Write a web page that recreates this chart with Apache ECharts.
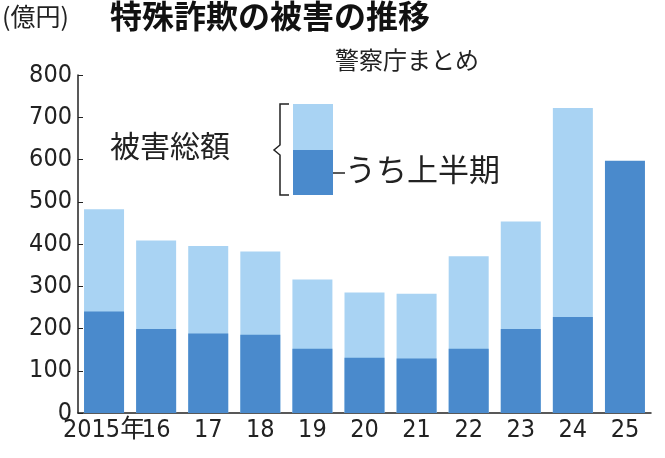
<!DOCTYPE html><html><head><meta charset="utf-8">
<script src="https://cdn.jsdelivr.net/npm/echarts@6/dist/echarts.min.js"></script>
<style>html,body{margin:0;padding:0;background:#fff}#c{width:665px;height:458px}</style></head>
<body><div id="c"></div><script>
const categories=['2015年','16','17','18','19','20','21','22','23','24','25'];
const totalValues=[482,408,395,382,316,285,282,371,453,722,null];
const firstHalfValues=[240,199,188,185,152,131,129,152,199,227,597];
const yTicks=[0,100,200,300,400,500,600,700,800];
const F='"Noto Sans CJK JP", sans-serif';
const chart=echarts.init(document.getElementById('c'));
chart.setOption({
 animation:false,
 grid:{left:78,right:14,top:75,bottom:45},
 xAxis:{type:'category',data:categories,axisTick:{show:false},
  axisLine:{lineStyle:{color:'#222',width:1.5}},
  axisLabel:{color:'#222',fontSize:25,fontFamily:'"Liberation Sans Narrow","DejaVu Sans Condensed",'+F,margin:5,interval:0}},
 yAxis:{type:'value',min:0,max:800,interval:100,
  axisLine:{show:true,lineStyle:{color:'#222',width:1.5}},axisTick:{show:true,length:5,inside:true,lineStyle:{color:'#222'}},
  splitLine:{show:false},
  axisLabel:{color:'#222',fontSize:25,fontFamily:'"Liberation Sans Narrow","DejaVu Sans Condensed",'+F,margin:6}},
 series:[
  {type:'bar',data:totalValues,barWidth:40,itemStyle:{color:'#a9d3f3'}},
  {type:'bar',data:firstHalfValues,barWidth:40,barGap:'-100%',itemStyle:{color:'#4a8acc'}}
 ],
 graphic:[
  {type:'text',left:2,top:4,style:{text:'(億円)',fontSize:25,fontFamily:F,fill:'#222'}},
  {type:'text',left:110,top:0,style:{text:'特殊詐欺の被害の推移',fontSize:32,fontWeight:'bold',fontFamily:F,fill:'#111'}},
  {type:'text',left:335,top:48,style:{text:'警察庁まとめ',fontSize:24,fontFamily:F,fill:'#222'}},
  {type:'rect',shape:{x:293,y:104,width:40,height:46},style:{fill:'#a9d3f3'}},
  {type:'rect',shape:{x:293,y:150,width:40,height:45},style:{fill:'#4a8acc'}},
  {type:'polyline',shape:{points:[[289,104],[280,104],[280,145],[274,150],[280,155],[280,195],[289,195]]},style:{stroke:'#222',lineWidth:1.5,fill:null}},
  {type:'line',shape:{x1:333,y1:173,x2:345,y2:173},style:{stroke:'#222',lineWidth:1.5}},
  {type:'text',left:110,top:131,style:{text:'被害総額',fontSize:30,fontFamily:F,fill:'#222'}},
  {type:'text',left:345,top:154,style:{text:'うち上半期',fontSize:31,fontFamily:F,fill:'#222'}}
 ]
});
</script></body></html>
